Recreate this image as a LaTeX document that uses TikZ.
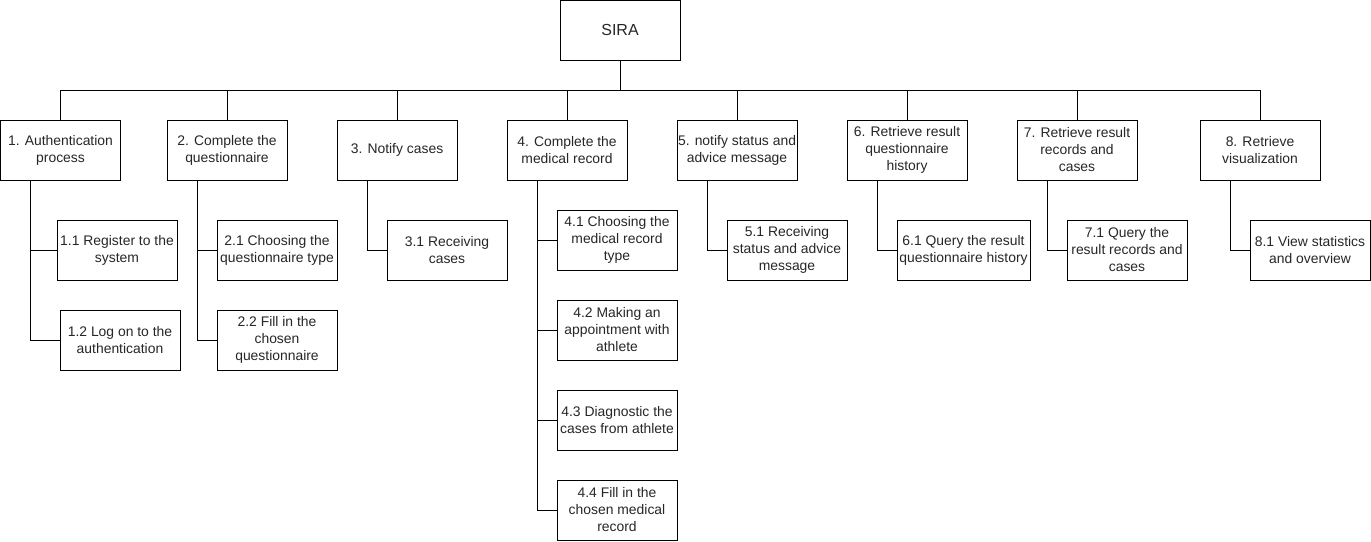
\documentclass[tikz,border=0pt]{standalone}
\usepackage{fontspec}
\setmainfont{Liberation Sans}
\begin{document}
\begin{tikzpicture}[x=1pt,y=-1pt,
  box/.style={draw, line width=1pt, minimum width=120pt, minimum height=60pt, inner sep=1pt, align=center, font=\fontsize{13.9}{17}\selectfont, text=black!85},
  conn/.style={draw, line width=1pt}]
\useasboundingbox (0,0) rectangle (1371,541);
% root
\node[box, font=\fontsize{16}{19}\selectfont] (sira) at (620,30) {SIRA};
% level 1
\node[box] (n1) at (60.5,150) {1. Authentication\\process};
\node[box] (n2) at (227,150) {2. Complete the\\questionnaire};
\node[box] (n3) at (397,150) {3. Notify cases};
\node[box] (n4) at (567,150) {4. Complete the\\medical record};
\node[box] (n5) at (737,150) {5. notify status and\\advice message};
\node[box] (n6) at (907,150) {6. Retrieve result\\questionnaire\\history};
\node[box] (n7) at (1077,150) {7. Retrieve result\\records and\\cases};
\node[box] (n8) at (1260,150) {8. Retrieve\\visualization};
% level 2
\node[box] (n11) at (117,250) {1.1 Register to the\\system};
\node[box] (n12) at (120,340) {1.2 Log on to the\\authentication};
\node[box] (n21) at (277,250) {2.1 Choosing the\\questionnaire type};
\node[box] (n22) at (277,340) {2.2 Fill in the\\chosen\\questionnaire};
\node[box] (n31) at (447,250) {3.1 Receiving\\cases};
\node[box] (n41) at (617,240) {4.1 Choosing the\\medical record\\type};
\node[box] (n42) at (617,330) {4.2 Making an\\appointment with\\athlete};
\node[box] (n43) at (617,420) {4.3 Diagnostic the\\cases from athlete};
\node[box] (n44) at (617,510) {4.4 Fill in the\\chosen medical\\record};
\node[box] (n51) at (787,250) {5.1 Receiving\\status and advice\\message};
\node[box, minimum width=133pt] (n61) at (963.5,250) {6.1 Query the result\\questionnaire history};
\node[box] (n71) at (1127,250) {7.1 Query the\\result records and\\cases};
\node[box] (n81) at (1310,250) {8.1 View statistics\\and overview};
% root connectors
\foreach \n in {n1,n2,n3,n4,n5,n6,n7,n8}
  \draw[conn] (sira.south) -- ++(0,30) -| (\n.north);
% child connectors
\draw[conn] ([xshift=-30pt]n1.south) |- (n11.west);
\draw[conn] ([xshift=-30pt]n1.south) |- (n12.west);
\draw[conn] ([xshift=-30pt]n2.south) |- (n21.west);
\draw[conn] ([xshift=-30pt]n2.south) |- (n22.west);
\draw[conn] ([xshift=-30pt]n3.south) |- (n31.west);
\draw[conn] ([xshift=-30pt]n4.south) |- (n41.west);
\draw[conn] ([xshift=-30pt]n4.south) |- (n42.west);
\draw[conn] ([xshift=-30pt]n4.south) |- (n43.west);
\draw[conn] ([xshift=-30pt]n4.south) |- (n44.west);
\draw[conn] ([xshift=-30pt]n5.south) |- (n51.west);
\draw[conn] ([xshift=-30pt]n6.south) |- (n61.west);
\draw[conn] ([xshift=-30pt]n7.south) |- (n71.west);
\draw[conn] ([xshift=-30pt]n8.south) |- (n81.west);
\end{tikzpicture}
\end{document}
